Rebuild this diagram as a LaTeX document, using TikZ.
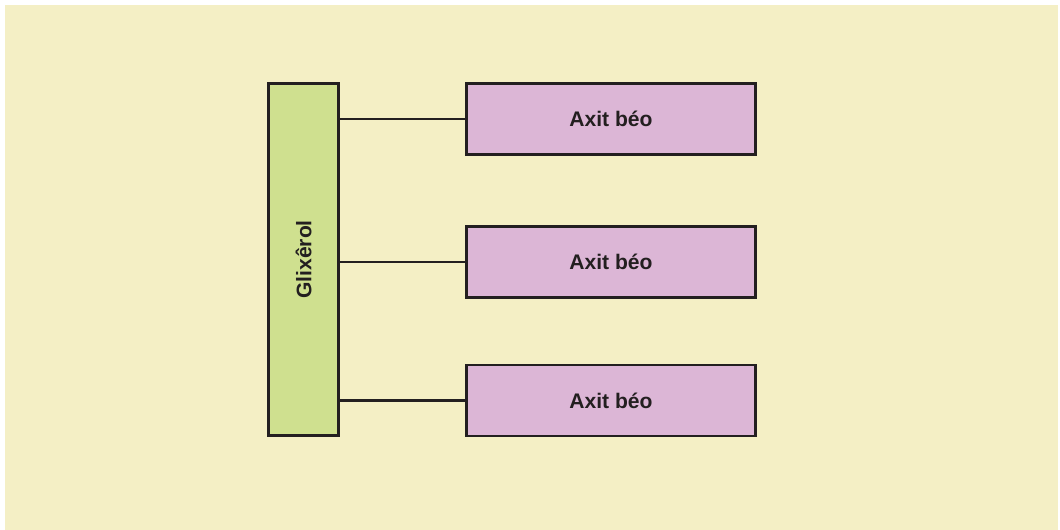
\documentclass[tikz,border=0pt]{standalone}
\usepackage{fontspec}
\setmainfont{Liberation Sans}
\usetikzlibrary{positioning}
\definecolor{nencream}{HTML}{F4EFC5}
\definecolor{glixgreen}{HTML}{CFE08F}
\definecolor{axitpink}{HTML}{DCB6D6}
\definecolor{vien}{HTML}{231F20}

\begin{document}
\begin{tikzpicture}[x=0.025cm, y=-0.025cm,
		hop/.style={draw=vien, line width=2.1pt, inner sep=0pt, text=vien, font=\fontsize{15}{18}\selectfont\bfseries},
		glix/.style={hop, fill=glixgreen, rotate=90, minimum width=8.8cm, minimum height=1.75cm},
		axit/.style={hop, fill=axitpink, minimum width=7.225cm, minimum height=1.775cm},
		noi/.style={draw=vien, line width=2.1pt}]
		%%%%% START %%%%%
		
		\fill[white] (0, 0) rectangle (1060, 530);
		\fill[nencream] (5, 5) rectangle (1058, 530);
		\useasboundingbox (0, 0) rectangle (1060, 530);
		
		\node[glix] (glixerol) at (303.5, 259.5) {Glixêrol};
		
		\node[axit] (axit1) at (611, 119) {Axit béo};
		\node[axit] (axit2) at (611, 262) {Axit béo};
		\node[axit] (axit3) at (611, 400.5) {Axit béo};
		
		\foreach \i in {1,2,3}
			\draw[noi] (axit\i.west -| glixerol.south) -- (axit\i.west);
		
		%%%%% END %%%%%
\end{tikzpicture}
\end{document}
